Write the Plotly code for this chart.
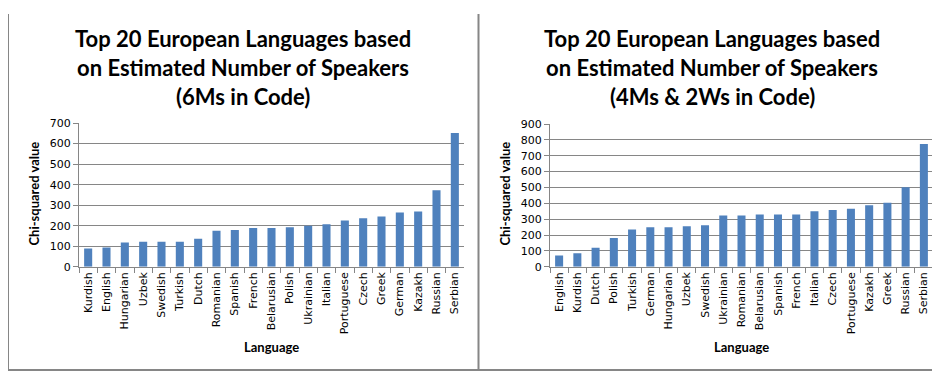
import plotly.graph_objects as go

# ---- Data ----
left_langs = ["Kurdish", "English", "Hungarian", "Uzbek", "Swedish", "Turkish", "Dutch",
              "Romanian", "Spanish", "French", "Belarusian", "Polish", "Ukrainian", "Italian",
              "Portuguese", "Czech", "Greek", "German", "Kazakh", "Russian", "Serbian"]
left_vals = [89, 94, 118, 122, 122, 122, 137, 175, 179, 189, 189, 193, 200, 207,
             226, 236, 245, 264, 269, 373, 651]

right_langs = ["English", "Kurdish", "Dutch", "Polish", "Turkish", "German", "Hungarian",
               "Uzbek", "Swedish", "Ukrainian", "Romanian", "Belarusian", "Spanish", "French",
               "Italian", "Czech", "Portuguese", "Kazakh", "Greek", "Russian", "Serbian"]
right_vals = [71, 85, 120, 181, 236, 250, 250, 256, 262, 323, 323, 329, 329, 329,
              351, 358, 366, 388, 404, 502, 774]

left_title = ["Top 20 European Languages based", "on Estimated Number of Speakers", "(6Ms in Code)"]
right_title = ["Top 20 European Languages based", "on Estimated Number of Speakers", "(4Ms & 2Ws in Code)"]
y_title = "Chi-squared value"
x_title = "Language"
left_ticks = list(range(0, 701, 100))
right_ticks = list(range(0, 901, 100))

W, H = 940, 371
BAR = "#4F81BD"
GRID = "#868686"
TICKFONT = dict(family="DejaVu Sans", size=11, color="#000000")

fig = go.Figure()
fig.add_trace(go.Bar(x=left_langs, y=left_vals, marker=dict(color=BAR, line=dict(width=0)),
                     xaxis="x", yaxis="y", showlegend=False))
fig.add_trace(go.Bar(x=right_langs, y=right_vals, marker=dict(color=BAR, line=dict(width=0)),
                     xaxis="x2", yaxis="y2", showlegend=False))

def px_x(v):
    return v / W

def px_y(v):
    return 1 - v / H

common_x = dict(type="category", showgrid=False, showline=True, linecolor=GRID, linewidth=1,
                ticks="outside", tickson="boundaries", ticklen=5, tickcolor=GRID,
                tickangle=-90, tickfont=TICKFONT, fixedrange=True)
common_y = dict(showgrid=True, gridcolor=GRID, gridwidth=1, showline=True, linecolor=GRID,
                linewidth=1, ticks="outside", ticklen=5, tickcolor=GRID, tickfont=TICKFONT,
                zeroline=False, fixedrange=True)

fig.update_layout(
    width=W, height=H,
    margin=dict(l=0, r=0, t=0, b=0),
    paper_bgcolor="white", plot_bgcolor="white",
    bargap=0.56,
    xaxis=dict(domain=[px_x(71), px_x(456)], anchor="y", **common_x),
    yaxis=dict(domain=[px_y(262), px_y(113)], anchor="x", range=[0, 700],
               tickvals=left_ticks, **common_y),
    xaxis2=dict(domain=[px_x(542), px_x(925)], anchor="y2", **common_x),
    yaxis2=dict(domain=[px_y(262), px_y(114)], anchor="x2", range=[0, 900],
                tickvals=right_ticks, **common_y),
)

annotations = []
TITLE_FONT = dict(family="Lato", size=22, color="#000000")
for cx, lines in ((235, left_title), (704, right_title)):
    for i, line in enumerate(lines):
        annotations.append(dict(text="<b>%s</b>" % line, x=px_x(cx), y=px_y(25 + 30 * i),
                                xref="paper", yref="paper", showarrow=False,
                                xanchor="center", yanchor="middle", font=TITLE_FONT))
AX_FONT = dict(family="Lato", size=13, color="#000000")
for cx in (26, 497):
    annotations.append(dict(text="<b>%s</b>" % y_title, x=px_x(cx), y=px_y(186),
                            xref="paper", yref="paper", showarrow=False, textangle=-90,
                            xanchor="center", yanchor="middle", font=AX_FONT))
for cx in (263, 733):
    annotations.append(dict(text="<b>%s</b>" % x_title, x=px_x(cx), y=px_y(345),
                            xref="paper", yref="paper", showarrow=False,
                            xanchor="center", yanchor="middle", font=AX_FONT))
fig.update_layout(annotations=annotations)

shapes = [
    dict(type="line", xref="paper", yref="paper", x0=px_x(0.5), x1=px_x(0.5), y0=px_y(0), y1=px_y(369),
         line=dict(color=GRID, width=1)),
    dict(type="line", xref="paper", yref="paper", x0=px_x(470.5), x1=px_x(470.5), y0=px_y(0), y1=px_y(369),
         line=dict(color=GRID, width=2)),
    dict(type="line", xref="paper", yref="paper", x0=0, x1=1, y0=px_y(369), y1=px_y(369),
         line=dict(color=GRID, width=2)),
]
fig.update_layout(shapes=shapes)

fig.write_html("out.html")
